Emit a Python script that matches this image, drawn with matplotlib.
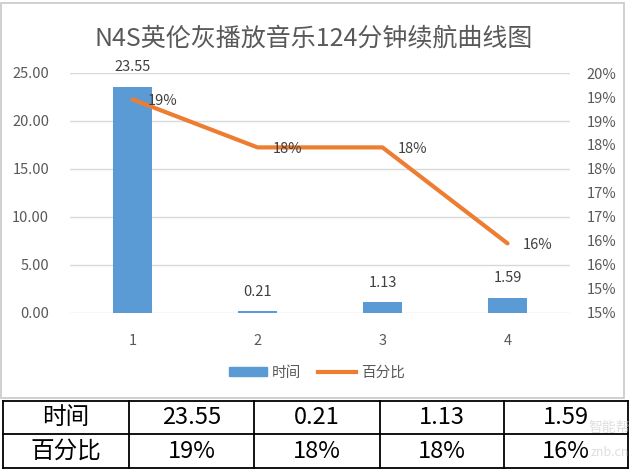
import matplotlib
matplotlib.use("Agg")
import matplotlib.pyplot as plt
from matplotlib.patches import Patch, Rectangle
from matplotlib.lines import Line2D
import numpy as np

plt.rcParams['font.family'] = ['Noto Sans CJK SC', 'DejaVu Sans']

# data
categories = ['1', '2', '3', '4']
hours = [23.55, 0.21, 1.13, 1.59]
percent = [0.1945, 0.1845, 0.1845, 0.1645]
percent_labels = ['19%', '18%', '18%', '16%']
left_ticks = [0, 5, 10, 15, 20, 25]
right_ticks = [0.15, 0.155, 0.16, 0.165, 0.17, 0.175, 0.18, 0.185, 0.19, 0.195, 0.20]
right_tick_labels = ['15%', '15%', '16%', '16%', '17%', '17%', '18%', '18%', '19%', '19%', '20%']
title = 'N4S英伦灰播放音乐124分钟续航曲线图'
row_names = ['时间', '百分比']

blue = '#5B9BD5'
orange = '#ED7D31'
grey_txt = '#595959'
grid_c = '#D9D9D9'

W, H = 630, 471
fig = plt.figure(figsize=(W / 100, H / 100), dpi=100)

# background: sheet + chart frame + table drawn in pixel space
bg = fig.add_axes([0, 0, 1, 1])
bg.set_xlim(0, W)
bg.set_ylim(H, 0)
bg.axis('off')
bg.add_patch(Rectangle((1, 3), 623, 395, fill=False, ec='#C8C8C8', lw=1.2))

x = np.arange(len(categories))
ax = fig.add_axes([70 / W, 1 - 313 / H, 500 / W, 240 / H])
ax.bar(x, hours, width=0.31, color=blue, zorder=2)
ax.set_xlim(-0.5, 3.5)
ax.set_ylim(0, 25)
ax.set_yticks(left_ticks)
ax.set_yticklabels(['%.2f' % t for t in left_ticks])
ax.set_xticks(x)
ax.set_xticklabels(categories)
ax.grid(axis='y', color=grid_c, lw=1, zorder=0)
for s in ax.spines.values():
    s.set_visible(False)
ax.tick_params(axis='both', length=0, colors=grey_txt, labelsize=10.5)
ax.tick_params(axis='y', pad=15)
ax.tick_params(axis='x', pad=15)
for xi, v in zip(x, hours):
    ax.annotate('%.2f' % v, (xi, v), xytext=(0, 14), textcoords='offset points',
                ha='center', va='center', fontsize=10.5, color='#404040')

ax2 = ax.twinx()
ax2.plot(x, percent, color=orange, lw=3, solid_capstyle='round', zorder=3)
ax2.set_ylim(0.15, 0.20)
ax2.set_yticks(right_ticks)
ax2.set_yticklabels(right_tick_labels)
for s in ax2.spines.values():
    s.set_visible(False)
ax2.tick_params(axis='y', length=0, colors=grey_txt, labelsize=10.5, pad=12)
for xi, v, lab in zip(x, percent, percent_labels):
    ax2.annotate(lab, (xi, v), xytext=(11, -1), textcoords='offset points',
                 ha='left', va='center', fontsize=10.5, color='#404040')

fig.text(0.498, 1 - 38 / H, title, ha='center', va='center', fontsize=18, color=grey_txt)

handles = [Patch(color=blue, label='时间'), Line2D([0], [0], color=orange, lw=3, label='百分比')]
fig.legend(handles=handles, loc='center', bbox_to_anchor=(317 / W, 1 - 373 / H), ncol=2,
           frameon=False, fontsize=10.5, labelcolor=grey_txt, handlelength=2.6,
           handleheight=0.6, columnspacing=1.2, handletextpad=0.3)

# table under the chart
col_x = [3, 129, 254, 380, 504, 628]
row_y = [401, 434, 468]
for cx in col_x:
    bg.plot([cx, cx], [row_y[0], row_y[-1]], color='black', lw=1.3)
for ry in row_y:
    bg.plot([col_x[0], col_x[-1]], [ry, ry], color='black', lw=1.3)
cells = [['%.2f' % v for v in hours], percent_labels]
for r in range(2):
    yc = (row_y[r] + row_y[r + 1]) / 2
    bg.text((col_x[0] + col_x[1]) / 2, yc, row_names[r], ha='center', va='center',
            fontsize=17, color='black')
    for c in range(4):
        bg.text((col_x[c + 1] + col_x[c + 2]) / 2, yc, cells[r][c], ha='center',
                va='center', fontsize=17, color='black')

# faint watermark
bg.text(609, 428, '智能帮', ha='center', va='center', fontsize=10, color='#C8C8C8', alpha=0.6)
bg.text(610, 452, 'znb.cn', ha='center', va='center', fontsize=9, color='#C8C8C8', alpha=0.6)

fig.savefig('out.png', dpi=100)
